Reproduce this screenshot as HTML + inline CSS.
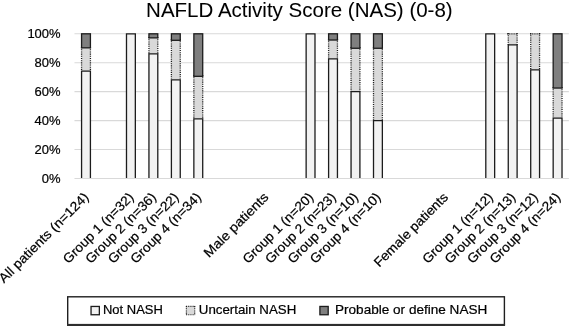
<!DOCTYPE html>
<html><head><meta charset="utf-8"><title>NAFLD Activity Score</title>
<style>html,body{margin:0;padding:0;background:#fff;}body{width:572px;height:326px;overflow:hidden;}svg{display:block;filter:grayscale(1);}text{font-family:"Liberation Sans",sans-serif;fill:#000;stroke:#000;stroke-width:0.22px;}</style>
</head><body>
<svg width="572" height="326" viewBox="0 0 572 326">
<rect x="0" y="0" width="572" height="326" fill="#ffffff"/>
<g>
<text x="146.1" y="16.7" font-size="20" style="stroke-width:0.05px" textLength="306.6" lengthAdjust="spacingAndGlyphs">NAFLD Activity Score (NAS) (0-8)</text>
<line x1="74.47" y1="149.52" x2="568.85" y2="149.52" stroke="#d9d9d9" stroke-width="1.1"/>
<line x1="74.47" y1="120.59" x2="568.85" y2="120.59" stroke="#d9d9d9" stroke-width="1.1"/>
<line x1="74.47" y1="91.66" x2="568.85" y2="91.66" stroke="#d9d9d9" stroke-width="1.1"/>
<line x1="74.47" y1="62.73" x2="568.85" y2="62.73" stroke="#d9d9d9" stroke-width="1.1"/>
<line x1="74.47" y1="33.80" x2="568.85" y2="33.80" stroke="#d9d9d9" stroke-width="1.1"/>
<text x="60.6" y="182.65" font-size="13.6" text-anchor="end" textLength="18.8" lengthAdjust="spacingAndGlyphs">0%</text>
<text x="60.6" y="153.72" font-size="13.6" text-anchor="end" textLength="26.0" lengthAdjust="spacingAndGlyphs">20%</text>
<text x="60.6" y="124.79" font-size="13.6" text-anchor="end" textLength="26.0" lengthAdjust="spacingAndGlyphs">40%</text>
<text x="60.6" y="95.86" font-size="13.6" text-anchor="end" textLength="26.0" lengthAdjust="spacingAndGlyphs">60%</text>
<text x="60.6" y="66.93" font-size="13.6" text-anchor="end" textLength="26.0" lengthAdjust="spacingAndGlyphs">80%</text>
<text x="60.6" y="38.00" font-size="13.6" text-anchor="end" textLength="33.2" lengthAdjust="spacingAndGlyphs">100%</text>
<rect x="81.57" y="47.83" width="8.85" height="23.29" fill="#d9d9d9"/>
<line x1="81.57" y1="47" x2="81.57" y2="71.12" stroke="#1c1c1c" stroke-width="1.3" stroke-dasharray="0.92 0.92"/>
<line x1="90.42" y1="47" x2="90.42" y2="71.12" stroke="#1c1c1c" stroke-width="1.3" stroke-dasharray="0.92 0.92"/>
<rect x="81.57" y="33.80" width="8.85" height="14.03" fill="#7f7f7f" stroke="#1c1c1c" stroke-width="1.3"/>
<path d="M81.57 178.75V71.12H90.42V178.75" fill="#f2f2f2" stroke="#1c1c1c" stroke-width="1.3"/>
<path d="M126.49 178.75V33.80H135.34V178.75" fill="#f2f2f2" stroke="#1c1c1c" stroke-width="1.3"/>
<rect x="148.94" y="37.85" width="8.85" height="16.06" fill="#d9d9d9"/>
<line x1="148.94" y1="37" x2="148.94" y2="53.91" stroke="#1c1c1c" stroke-width="1.3" stroke-dasharray="0.92 0.92"/>
<line x1="157.79" y1="37" x2="157.79" y2="53.91" stroke="#1c1c1c" stroke-width="1.3" stroke-dasharray="0.92 0.92"/>
<rect x="148.94" y="33.80" width="8.85" height="4.05" fill="#7f7f7f" stroke="#1c1c1c" stroke-width="1.3"/>
<path d="M148.94 178.75V53.91H157.79V178.75" fill="#f2f2f2" stroke="#1c1c1c" stroke-width="1.3"/>
<rect x="171.40" y="40.31" width="8.85" height="39.49" fill="#d9d9d9"/>
<line x1="171.40" y1="39" x2="171.40" y2="79.80" stroke="#1c1c1c" stroke-width="1.3" stroke-dasharray="0.92 0.92"/>
<line x1="180.25" y1="39" x2="180.25" y2="79.80" stroke="#1c1c1c" stroke-width="1.3" stroke-dasharray="0.92 0.92"/>
<rect x="171.40" y="33.80" width="8.85" height="6.51" fill="#7f7f7f" stroke="#1c1c1c" stroke-width="1.3"/>
<path d="M171.40 178.75V79.80H180.25V178.75" fill="#f2f2f2" stroke="#1c1c1c" stroke-width="1.3"/>
<rect x="193.86" y="76.33" width="8.85" height="42.53" fill="#d9d9d9"/>
<line x1="193.86" y1="75" x2="193.86" y2="118.85" stroke="#1c1c1c" stroke-width="1.3" stroke-dasharray="0.92 0.92"/>
<line x1="202.71" y1="75" x2="202.71" y2="118.85" stroke="#1c1c1c" stroke-width="1.3" stroke-dasharray="0.92 0.92"/>
<rect x="193.86" y="33.80" width="8.85" height="42.53" fill="#7f7f7f" stroke="#1c1c1c" stroke-width="1.3"/>
<path d="M193.86 178.75V118.85H202.71V178.75" fill="#f2f2f2" stroke="#1c1c1c" stroke-width="1.3"/>
<path d="M306.14 178.75V33.80H314.99V178.75" fill="#f2f2f2" stroke="#1c1c1c" stroke-width="1.3"/>
<rect x="328.60" y="40.02" width="8.85" height="18.95" fill="#d9d9d9"/>
<line x1="328.60" y1="39" x2="328.60" y2="58.97" stroke="#1c1c1c" stroke-width="1.3" stroke-dasharray="0.92 0.92"/>
<line x1="337.45" y1="39" x2="337.45" y2="58.97" stroke="#1c1c1c" stroke-width="1.3" stroke-dasharray="0.92 0.92"/>
<rect x="328.60" y="33.80" width="8.85" height="6.22" fill="#7f7f7f" stroke="#1c1c1c" stroke-width="1.3"/>
<path d="M328.60 178.75V58.97H337.45V178.75" fill="#f2f2f2" stroke="#1c1c1c" stroke-width="1.3"/>
<rect x="351.06" y="48.26" width="8.85" height="43.40" fill="#d9d9d9"/>
<line x1="351.06" y1="47" x2="351.06" y2="91.66" stroke="#1c1c1c" stroke-width="1.3" stroke-dasharray="0.92 0.92"/>
<line x1="359.91" y1="47" x2="359.91" y2="91.66" stroke="#1c1c1c" stroke-width="1.3" stroke-dasharray="0.92 0.92"/>
<rect x="351.06" y="33.80" width="8.85" height="14.47" fill="#7f7f7f" stroke="#1c1c1c" stroke-width="1.3"/>
<path d="M351.06 178.75V91.66H359.91V178.75" fill="#f2f2f2" stroke="#1c1c1c" stroke-width="1.3"/>
<rect x="373.51" y="48.26" width="8.85" height="72.33" fill="#d9d9d9"/>
<line x1="373.51" y1="47" x2="373.51" y2="120.59" stroke="#1c1c1c" stroke-width="1.3" stroke-dasharray="0.92 0.92"/>
<line x1="382.36" y1="47" x2="382.36" y2="120.59" stroke="#1c1c1c" stroke-width="1.3" stroke-dasharray="0.92 0.92"/>
<rect x="373.51" y="33.80" width="8.85" height="14.47" fill="#7f7f7f" stroke="#1c1c1c" stroke-width="1.3"/>
<path d="M373.51 178.75V120.59H382.36V178.75" fill="#f2f2f2" stroke="#1c1c1c" stroke-width="1.3"/>
<path d="M485.80 178.75V33.80H494.65V178.75" fill="#f2f2f2" stroke="#1c1c1c" stroke-width="1.3"/>
<rect x="508.26" y="33.80" width="8.85" height="11.14" fill="#d9d9d9"/>
<line x1="508.26" y1="33" x2="508.26" y2="44.94" stroke="#1c1c1c" stroke-width="1.3" stroke-dasharray="0.92 0.92"/>
<line x1="517.11" y1="33" x2="517.11" y2="44.94" stroke="#1c1c1c" stroke-width="1.3" stroke-dasharray="0.92 0.92"/>
<line x1="507" y1="33.80" x2="517.76" y2="33.80" stroke="#1c1c1c" stroke-width="1.3" stroke-dasharray="0.92 0.92"/>
<path d="M508.26 178.75V44.94H517.11V178.75" fill="#f2f2f2" stroke="#1c1c1c" stroke-width="1.3"/>
<rect x="530.71" y="33.80" width="8.85" height="36.16" fill="#d9d9d9"/>
<line x1="530.71" y1="33" x2="530.71" y2="69.96" stroke="#1c1c1c" stroke-width="1.3" stroke-dasharray="0.92 0.92"/>
<line x1="539.56" y1="33" x2="539.56" y2="69.96" stroke="#1c1c1c" stroke-width="1.3" stroke-dasharray="0.92 0.92"/>
<line x1="530" y1="33.80" x2="540.21" y2="33.80" stroke="#1c1c1c" stroke-width="1.3" stroke-dasharray="0.92 0.92"/>
<path d="M530.71 178.75V69.96H539.56V178.75" fill="#f2f2f2" stroke="#1c1c1c" stroke-width="1.3"/>
<rect x="553.17" y="88.04" width="8.85" height="30.09" fill="#d9d9d9"/>
<line x1="553.17" y1="87" x2="553.17" y2="118.13" stroke="#1c1c1c" stroke-width="1.3" stroke-dasharray="0.92 0.92"/>
<line x1="562.02" y1="87" x2="562.02" y2="118.13" stroke="#1c1c1c" stroke-width="1.3" stroke-dasharray="0.92 0.92"/>
<rect x="553.17" y="33.80" width="8.85" height="54.24" fill="#7f7f7f" stroke="#1c1c1c" stroke-width="1.3"/>
<path d="M553.17 178.75V118.13H562.02V178.75" fill="#f2f2f2" stroke="#1c1c1c" stroke-width="1.3"/>
<line x1="74.47" y1="178.45" x2="568.85" y2="178.45" stroke="#d9d9d9" stroke-width="1.1"/>
<text transform="translate(89.60 198.05) rotate(-45)" font-size="13.2" text-anchor="end" textLength="120.9" lengthAdjust="spacingAndGlyphs">All patients (n=124)</text>
<text transform="translate(134.51 198.05) rotate(-45)" font-size="13.2" text-anchor="end" textLength="93.6" lengthAdjust="spacingAndGlyphs">Group 1 (n=32)</text>
<text transform="translate(156.97 198.05) rotate(-45)" font-size="13.2" text-anchor="end" textLength="93.6" lengthAdjust="spacingAndGlyphs">Group 2 (n=36)</text>
<text transform="translate(179.43 198.05) rotate(-45)" font-size="13.2" text-anchor="end" textLength="93.6" lengthAdjust="spacingAndGlyphs">Group 3 (n=22)</text>
<text transform="translate(201.88 198.05) rotate(-45)" font-size="13.2" text-anchor="end" textLength="93.6" lengthAdjust="spacingAndGlyphs">Group 4 (n=34)</text>
<text transform="translate(269.25 198.05) rotate(-45)" font-size="13.2" text-anchor="end" textLength="85.1" lengthAdjust="spacingAndGlyphs">Male patients</text>
<text transform="translate(314.17 198.05) rotate(-45)" font-size="13.2" text-anchor="end" textLength="93.6" lengthAdjust="spacingAndGlyphs">Group 1 (n=20)</text>
<text transform="translate(336.63 198.05) rotate(-45)" font-size="13.2" text-anchor="end" textLength="93.6" lengthAdjust="spacingAndGlyphs">Group 2 (n=23)</text>
<text transform="translate(359.08 198.05) rotate(-45)" font-size="13.2" text-anchor="end" textLength="93.6" lengthAdjust="spacingAndGlyphs">Group 3 (n=10)</text>
<text transform="translate(381.54 198.05) rotate(-45)" font-size="13.2" text-anchor="end" textLength="93.6" lengthAdjust="spacingAndGlyphs">Group 4 (n=10)</text>
<text transform="translate(448.91 198.05) rotate(-45)" font-size="13.2" text-anchor="end" textLength="98.7" lengthAdjust="spacingAndGlyphs">Female patients</text>
<text transform="translate(493.82 198.05) rotate(-45)" font-size="13.2" text-anchor="end" textLength="93.6" lengthAdjust="spacingAndGlyphs">Group 1 (n=12)</text>
<text transform="translate(516.28 198.05) rotate(-45)" font-size="13.2" text-anchor="end" textLength="93.6" lengthAdjust="spacingAndGlyphs">Group 2 (n=13)</text>
<text transform="translate(538.74 198.05) rotate(-45)" font-size="13.2" text-anchor="end" textLength="93.6" lengthAdjust="spacingAndGlyphs">Group 3 (n=12)</text>
<text transform="translate(561.20 198.05) rotate(-45)" font-size="13.2" text-anchor="end" textLength="93.6" lengthAdjust="spacingAndGlyphs">Group 4 (n=24)</text>
<rect x="67.7" y="296.8" width="436.7" height="27.9" fill="#fff" stroke="#1f1f1f" stroke-width="1.4"/>
<rect x="67" y="323.9" width="438.05" height="2.1" fill="#2e2e2e"/>
<rect x="91.05" y="306.45" width="8.3" height="8.3" fill="#f2f2f2" stroke="#1c1c1c" stroke-width="1.3"/>
<rect x="186.40" y="306.45" width="8.30" height="8.30" fill="#d9d9d9"/>
<line x1="186.40" y1="306" x2="186.40" y2="315.35" stroke="#1c1c1c" stroke-width="1.2" stroke-dasharray="0.92 0.92"/>
<line x1="194.70" y1="306" x2="194.70" y2="315.35" stroke="#1c1c1c" stroke-width="1.2" stroke-dasharray="0.92 0.92"/>
<line x1="186" y1="306.45" x2="195.30" y2="306.45" stroke="#1c1c1c" stroke-width="1.2" stroke-dasharray="0.92 0.92"/>
<line x1="186" y1="314.75" x2="195.30" y2="314.75" stroke="#1c1c1c" stroke-width="1.2" stroke-dasharray="0.92 0.92"/>
<rect x="319.90" y="306.45" width="8.3" height="8.3" fill="#7f7f7f" stroke="#1c1c1c" stroke-width="1.3"/>
<text x="103" y="314.3" font-size="13.2" textLength="59.8" lengthAdjust="spacingAndGlyphs">Not NASH</text>
<text x="198.8" y="314.3" font-size="13.2" textLength="97.5" lengthAdjust="spacingAndGlyphs">Uncertain NASH</text>
<text x="335" y="314.3" font-size="13.2" textLength="152.3" lengthAdjust="spacingAndGlyphs">Probable or define NASH</text>
</g>
</svg></body></html>
